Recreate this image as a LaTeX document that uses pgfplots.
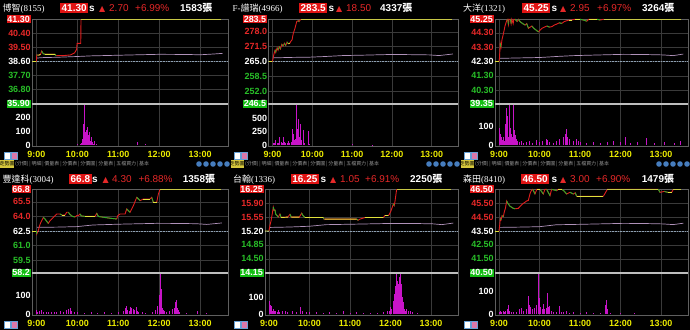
\documentclass[border=0pt]{standalone}
\usepackage{pgfplots}
\pgfplotsset{compat=1.18}
\usepackage{fontspec}
\setmainfont{Liberation Sans}
\newfontfamily\cjk{Noto Sans CJK TC}
\newfontfamily\serif{Liberation Serif}
\newfontfamily\sym{DejaVu Sans}

\definecolor{gridc}{RGB}{58,58,58}
\definecolor{framec}{RGB}{95,95,95}
\definecolor{sepc}{RGB}{190,190,190}
\definecolor{upred}{RGB}{225,30,30}
\definecolor{dngreen}{RGB}{40,175,40}
\definecolor{flaty}{RGB}{225,225,60}
\definecolor{limy}{RGB}{200,200,70}
\definecolor{avgc}{RGB}{175,145,185}
\definecolor{volc}{RGB}{200,20,200}
\definecolor{refc}{RGB}{140,160,180}
\definecolor{lblred}{RGB}{230,40,40}
\definecolor{lblgreen}{RGB}{40,190,40}
\definecolor{boxred}{RGB}{225,20,20}
\definecolor{boxgreen}{RGB}{20,190,20}
\definecolor{timey}{RGB}{235,235,0}
\definecolor{tabc}{RGB}{150,150,150}
\definecolor{btnc}{RGB}{70,125,190}
\definecolor{iconb}{RGB}{100,160,215}
\definecolor{iconp}{RGB}{220,120,170}
\definecolor{tabyel}{RGB}{215,200,60}

\newcommand\tf{\bfseries\fontsize{9}{9}\selectfont}
\newcommand\rb[1]{{\setlength{\fboxsep}{0.8bp}\colorbox{boxred}{\textcolor{white}{#1}}}}
\newcommand\gb[1]{{\setlength{\fboxsep}{0.8bp}\colorbox{boxgreen}{\textcolor{white}{#1}}}}
\newcommand\hb[1]{{\setlength{\fboxsep}{1.5bp}\colorbox{boxred}{\textcolor{white}{#1}}}}
\newcommand\rl[1]{\textcolor{lblred}{#1}}
\newcommand\gl[1]{\textcolor{lblgreen}{#1}}
\newcommand\wl[1]{\textcolor{white}{#1}}

\pgfplotsset{
  price/.style={scale only axis, anchor=north west, clip=false,
    axis line style={framec, line width=0.6bp},
    xtick={0,60,120,180,240}, xticklabels={},
    xmajorgrids, ymajorgrids, grid style={gridc, line width=0.6bp},
    major tick length=0pt, unbounded coords=jump,
    yticklabel style={font=\tf, inner sep=0.5bp, xshift=-0.6bp}},
  vol/.style={scale only axis, anchor=north west, height=42.8bp,
    axis line style={framec, line width=0.6bp},
    xtick={0,60,120,180,240}, xticklabels={9:00,10:00,11:00,12:00,13:00},
    xticklabel style={font=\tf, text=timey, anchor=north, inner sep=0pt, yshift=-5bp},
    xmajorgrids, grid style={gridc, line width=0.6bp},
    major tick length=0pt,
    yticklabel style={font=\tf, text=white, inner sep=0.5bp, xshift=-0.6bp},
    after end axis/.code={\draw[sepc, line width=1.6bp] (rel axis cs:0,1) -- (rel axis cs:1,1);}},
  refl/.style={refc, densely dotted, line width=0.6bp},
  avgl/.style={avgc, line width=0.7bp},
  upl/.style={upred, line width=0.9bp},
  dnl/.style={dngreen, line width=0.9bp},
  flatl/.style={flaty, line width=0.9bp},
  liml/.style={limy, line width=1bp},
  volb/.style={volc, ycomb, line width=0.8bp},
}

\newcommand\hdrfont{\fontsize{10}{10}\selectfont}

\begin{document}
\begin{tikzpicture}
\fill[black] (0,0) rectangle (690bp,-330bp);
\useasboundingbox (0,0) rectangle (690bp,-330bp);

% ================= Panel 1 =================
\begin{axis}[price, at={(32bp,-19.3bp)}, width=196bp, height=84.4bp,
  xmin=-6.5, xmax=281, ymin=35.90, ymax=41.30,
  ytick={35.90,36.80,37.70,38.60,39.50,40.40,41.30},
  yticklabels={\gb{35.90},\gl{36.80},\gl{37.70},\wl{38.60},\rl{39.50},\rl{40.40},\rb{41.30}}]
\addplot[refl] coordinates {(-6.5,38.60)(281,38.60)};
\addplot[avgl] coordinates {(0,38.82)(10,38.85)(30,38.87)(60,38.92)(80,38.96)(100,38.98)(150,39.03)(180,39.06)(220,39.05)(240,39.03)(260,39.08)(273,39.12)};
\addplot[upl] coordinates {(0,38.60)(0.5,39.02)(3,39.00)(6,39.05)(7.7,39.27)(10,39.10)(12.6,39.06)(27.3,39.06)(28.8,38.97)(40,38.98)(50,39.02)(56,39.15)(59,39.38)(59.6,39.76)(65,39.76)(65.4,41.30)};
\addplot[dnl] coordinates {(0.5,39.02)(3,39.00)(3,nan)(7.7,39.27)(10,39.10)(12.6,39.06)(12.6,nan)(27.3,39.06)(28.8,38.97)};
\addplot[flatl] coordinates {(-6,38.60)(0,38.60)(0,nan)(3,39.00)(6,39.05)(6,nan)(12.6,39.06)(27.3,39.06)};
\addplot[liml] coordinates {(65.4,41.30)(270,41.30)};
\end{axis}
\begin{axis}[vol, at={(32bp,-103.7bp)}, width=196bp,
  xmin=-6.5, xmax=281, ymin=-10.7, ymax=295, ytick={0,100,200}, yticklabels={0,100,200}]
\addplot[volb] coordinates {(60,8)(64,10)(66,12)(67,20)(68,40)(69,150)(70,290)(71,200)(72,90)(73,60)(74,110)(75,130)(76,70)(77,50)(78,90)(79,30)(80,40)(81,60)(82,20)(83,10)(85,30)(88,10)(148,25)(160,5)};
\end{axis}

% ================= Panel 2 =================
\begin{axis}[price, at={(268.3bp,-19.3bp)}, width=189.7bp, height=84.4bp,
  xmin=-6.3, xmax=279.6, ymin=246.5, ymax=283.5,
  ytick={246.5,252,258.5,265,271.5,278,283.5},
  yticklabels={\gb{246.5},\gl{252.0},\gl{258.5},\wl{265.0},\rl{271.5},\rl{278.0},\rb{283.5}}]
\addplot[refl] coordinates {(-6.3,265)(279.6,265)};
\addplot[avgl] coordinates {(1,266.6)(30,266.8)(56,266.9)(80,267.2)(106,267.6)(140,267.8)(181,268.1)(210,268.0)(236,267.9)(251,267.6)(272,268.3)};
\addplot[upl] coordinates {(0,265.0)(1,266.5)(2.5,268.6)(4,270.0)(5,269.0)(7,271.0)(8.5,270.0)(10,271.5)(12,270.5)(14,272.5)(16,271.8)(18,273.0)(20,272.0)(22,273.5)(24,272.8)(26,273.0)(28,274.0)(29.5,274.5)(31.4,277.4)(33.9,279.5)(36.5,282.5)(38.9,282.9)(40,282.5)(42.5,283.5)};
\addplot[dnl] coordinates {(4,270.0)(5,269.0)(5,nan)(7,271.0)(8.5,270.0)(8.5,nan)(10,271.5)(12,270.5)(12,nan)(14,272.5)(16,271.8)(16,nan)(18,273.0)(20,272.0)(20,nan)(22,273.5)(24,272.8)(24,nan)(38.9,282.9)(40,282.5)};
\addplot[flatl] coordinates {(-6,265)(0,265)(0,nan)(24,272.8)(26,273.0)};
\addplot[liml] coordinates {(42.5,283.5)(270,283.5)};
\end{axis}
\begin{axis}[vol, at={(268.3bp,-103.7bp)}, width=189.7bp,
  xmin=-6.3, xmax=279.6, ymin=-27.7, ymax=763, ytick={0,250,500}, yticklabels={0,250,500}]
\addplot[volb] coordinates {(1,30)(3,40)(5,90)(7,40)(9,30)(11,140)(13,50)(15,40)(17,150)(18,60)(20,40)(22,30)(24,80)(26,40)(28,60)(30,300)(31,200)(33,100)(35,120)(36,750)(37,300)(38,180)(39,480)(40,150)(42,380)(43,100)(44,50)(46,280)(48,40)(54,250)(56,20)(120,10)(150,5)};
\end{axis}

% ================= Panel 3 =================
\begin{axis}[price, at={(495bp,-19.3bp)}, width=193bp, height=84.4bp,
  xmin=-5.9, xmax=280, ymin=39.35, ymax=45.25,
  ytick={39.35,40.30,41.30,42.30,43.30,44.30,45.25},
  yticklabels={\gb{39.35},\gl{40.30},\gl{41.30},\wl{42.30},\rl{43.30},\rl{44.30},\rb{45.25}}]
\addplot[refl] coordinates {(-5.9,42.30)(280,42.30)};
\addplot[avgl] coordinates {(1,42.52)(30,42.55)(61,42.58)(85,42.65)(110,42.71)(150,42.76)(184,42.80)(215,42.79)(243,42.76)(258,42.71)(273,42.82)};
\addplot[upl] coordinates {(0,42.30)(0.8,42.60)(1.8,43.57)(3,43.30)(4.5,43.85)(6.7,44.27)(9,44.80)(11.7,45.20)(13,45.25)(14,44.90)(15,45.25)(17,45.25)(18,44.95)(19,45.25)(21,44.95)(22,45.25)(24,45.25)(27,45.10)(29,45.25)(31.4,45.08)(35,44.95)(38.8,44.85)(41,44.95)(43.7,44.62)(46,44.70)(48.7,44.78)(51,44.65)(53.6,44.55)(56,44.45)(58.5,44.38)(61,44.50)(63.6,44.62)(67,44.70)(71,44.78)(75,44.70)(78.4,44.74)(82,44.85)(85.8,44.92)(89,45.00)(93.2,44.97)(97,45.10)(100.6,45.15)(104,45.20)(108,45.20)(112,45.25)(120,45.25)(125,45.20)(130,45.12)(133,45.25)(145,45.25)(150,45.20)(155,45.25)};
\addplot[dnl] coordinates {(1.8,43.57)(3,43.30)(3,nan)(13,45.25)(14,44.90)(14,nan)(17,45.25)(18,44.95)(18,nan)(24,45.25)(27,45.10)(27,nan)(29,45.25)(31.4,45.08)(35,44.95)(38.8,44.85)(38.8,nan)(41,44.95)(43.7,44.62)(43.7,nan)(48.7,44.78)(51,44.65)(53.6,44.55)(56,44.45)(58.5,44.38)(58.5,nan)(71,44.78)(75,44.70)(75,nan)(89,45.00)(93.2,44.97)(93.2,nan)(120,45.25)(125,45.20)(130,45.12)(130,nan)(145,45.25)(150,45.20)};
\addplot[flatl] coordinates {(-6,42.30)(0,42.30)(0,nan)(104,45.20)(108,45.20)(108,nan)(112,45.25)(120,45.25)(120,nan)(133,45.25)(145,45.25)};
\addplot[liml] coordinates {(155,45.25)(270,45.25)};
\end{axis}
\begin{axis}[vol, at={(495bp,-103.7bp)}, width=193bp,
  xmin=-5.9, xmax=280, ymin=-7.9, ymax=217, ytick={0,100}, yticklabels={0,100}]
\addplot[volb] coordinates {(0,90)(1,30)(2,60)(3,20)(4,40)(5,25)(6,30)(7,40)(8,20)(9,30)(10,110)(11,193)(12,60)(13,150)(14,40)(15,70)(16,210)(17,90)(18,50)(19,60)(20,40)(21,210)(22,100)(23,80)(24,40)(25,50)(26,30)(28,20)(30,15)(33,20)(36,10)(40,15)(45,20)(50,10)(55,25)(60,15)(65,20)(70,30)(72,25)(75,15)(80,10)(85,20)(90,30)(95,40)(98,60)(100,85)(102,40)(105,30)(110,20)(115,30)(118,20)(120,15)(130,10)(140,15)(150,10)(160,15)(170,20)(180,15)(187,40)(195,10)(205,15)(218,35)(230,10)(245,15)(260,10)(268,20)};
\end{axis}

% ================= Panel 4 =================
\begin{axis}[price, at={(32bp,-189.3bp)}, width=196bp, height=83.4bp,
  xmin=-6.5, xmax=281, ymin=58.2, ymax=66.8,
  ytick={58.2,59.5,61.0,62.5,64.0,65.5,66.8},
  yticklabels={\gb{58.2},\gl{59.5},\gl{61.0},\wl{62.5},\rl{64.0},\rl{65.5},\rb{66.8}}]
\addplot[refl] coordinates {(-6.5,62.5)(281,62.5)};
\addplot[avgl] coordinates {(1,62.88)(30,62.90)(59,62.95)(83,63.12)(120,63.20)(176,63.29)(210,63.28)(235,63.25)(250,63.18)(272,63.33)};
\addplot[upl] coordinates {(0,62.50)(0.5,62.20)(3,62.60)(5.3,63.20)(8,63.60)(10.2,63.91)(12.6,63.74)(15,63.50)(17.5,63.29)(20,63.57)(24.8,63.91)(29.7,64.25)(34.6,64.25)(37.1,64.15)(42,64.15)(44.4,64.43)(46.8,64.43)(49.3,64.20)(53,64.00)(56.6,63.95)(59.1,64.08)(61.5,64.08)(64,64.25)(66,64.05)(71.3,64.01)(86,64.01)(88.4,64.32)(90.9,64.00)(100,63.90)(110,63.80)(117.8,63.74)(119.3,64.08)(122.6,64.25)(130,64.25)(132.4,64.77)(137.3,64.43)(142.2,65.11)(147.1,65.97)(152,65.63)(156.9,65.80)(166.6,65.80)(169.1,65.97)(171.5,65.46)(176.4,65.46)(178.9,66.32)(181.3,66.80)};
\addplot[dnl] coordinates {(0,62.50)(0.5,62.20)(0.5,nan)(10.2,63.91)(12.6,63.74)(15,63.50)(17.5,63.29)(17.5,nan)(34.6,64.25)(37.1,64.15)(37.1,nan)(46.8,64.43)(49.3,64.20)(53,64.00)(56.6,63.95)(56.6,nan)(64,64.25)(66,64.05)(71.3,64.01)(71.3,nan)(88.4,64.32)(90.9,64.00)(100,63.90)(110,63.80)(117.8,63.74)(117.8,nan)(132.4,64.77)(137.3,64.43)(137.3,nan)(147.1,65.97)(152,65.63)(152,nan)(169.1,65.97)(171.5,65.46)};
\addplot[flatl] coordinates {(-6,62.5)(0,62.5)(0,nan)(37.1,64.15)(42,64.15)(42,nan)(71.3,64.01)(86,64.01)(86,nan)(156.9,65.80)(166.6,65.80)(166.6,nan)(171.5,65.46)(176.4,65.46)};
\addplot[liml] coordinates {(181.3,66.80)(270,66.80)};
\end{axis}
\begin{axis}[vol, at={(32bp,-272.7bp)}, width=196bp,
  xmin=-6.5, xmax=281, ymin=-7.9, ymax=217, ytick={0,100}, yticklabels={0,100}]
\addplot[volb] coordinates {(0,20)(2,10)(5,15)(8,20)(10,10)(14,8)(18,10)(22,12)(26,8)(30,10)(35,15)(40,10)(44,20)(47,25)(50,30)(52,15)(55,10)(60,8)(70,5)(80,8)(90,5)(100,8)(110,5)(120,10)(128,15)(130,30)(132,40)(134,20)(136,15)(138,35)(140,30)(142,25)(144,20)(146,35)(148,15)(150,10)(155,8)(160,5)(170,10)(175,20)(178,40)(180,100)(181,60)(182,214)(183,130)(184,50)(185,30)(186,20)(188,15)(190,10)(195,15)(200,25)(202,30)(204,65)(205,74)(206,40)(207,30)(208,20)(210,10)(220,5)(236,15)(250,5)};
\end{axis}

% ================= Panel 5 =================
\begin{axis}[price, at={(265bp,-189.3bp)}, width=193bp, height=83.4bp,
  xmin=-5.9, xmax=280, ymin=14.15, ymax=16.25,
  ytick={14.15,14.50,14.85,15.20,15.55,15.90,16.25},
  yticklabels={\gb{14.15},\gl{14.50},\gl{14.85},\wl{15.20},\rl{15.55},\rl{15.90},\rb{16.25}}]
\addplot[refl] coordinates {(-5.9,15.20)(280,15.20)};
\addplot[avgl] coordinates {(1,15.29)(30,15.30)(60,15.32)(85,15.36)(120,15.37)(179,15.39)(215,15.39)(243,15.38)(256,15.36)(273,15.40)};
\addplot[upl] coordinates {(0,15.20)(1.5,15.35)(3,15.45)(5,15.65)(6.4,15.80)(7.5,15.72)(8.9,15.73)(10,15.62)(11.4,15.60)(13.8,15.55)(16.3,15.63)(18,15.54)(26.2,15.55)(28,15.55)(31.1,15.62)(33,15.55)(36,15.55)(45,15.55)(48.4,15.65)(50,15.60)(53.3,15.54)(80.5,15.54)(82,15.49)(83,15.50)(129.9,15.50)(132,15.47)(134.8,15.50)(142.2,15.54)(169.4,15.54)(171.8,15.59)(176.8,15.59)(178.3,15.62)(181,15.72)(184.2,15.88)(185.5,15.84)(186.7,15.95)(189.1,16.25)};
\addplot[dnl] coordinates {(6.4,15.80)(7.5,15.72)(7.5,nan)(8.9,15.73)(10,15.62)(11.4,15.60)(13.8,15.55)(13.8,nan)(16.3,15.63)(18,15.54)(18,nan)(31.1,15.62)(33,15.55)(33,nan)(48.4,15.65)(50,15.60)(53.3,15.54)(53.3,nan)(80.5,15.54)(82,15.49)(82,nan)(129.9,15.50)(132,15.47)(132,nan)(184.2,15.88)(185.5,15.84)};
\addplot[flatl] coordinates {(-6,15.20)(0,15.20)(0,nan)(18,15.54)(28,15.55)(28,nan)(33,15.55)(45,15.55)(45,nan)(53.3,15.54)(80.5,15.54)(80.5,nan)(83,15.50)(129.9,15.50)(129.9,nan)(142.2,15.54)(169.4,15.54)(169.4,nan)(171.8,15.59)(176.8,15.59)};
\addplot[liml] coordinates {(189.1,16.25)(270,16.25)};
\end{axis}
\begin{axis}[vol, at={(265bp,-272.7bp)}, width=193bp,
  xmin=-5.9, xmax=280, ymin=-9, ymax=247, ytick={0,100}, yticklabels={0,100}]
\addplot[volb] coordinates {(0,75)(1,40)(2,55)(3,30)(4,45)(5,20)(6,30)(8,15)(10,20)(12,10)(14,25)(16,10)(20,15)(24,20)(28,10)(34,20)(40,10)(47,40)(50,15)(55,10)(60,10)(70,10)(80,5)(90,10)(100,5)(110,15)(120,5)(130,10)(140,5)(150,8)(160,5)(170,10)(175,15)(178,20)(180,40)(182,30)(184,60)(185,80)(186,120)(187,100)(188,170)(189,238)(190,200)(191,150)(192,180)(193,220)(194,240)(195,160)(196,180)(197,100)(198,60)(199,70)(200,30)(202,20)(204,30)(206,15)(209,20)(212,10)(220,5)};
\end{axis}

% ================= Panel 6 =================
\begin{axis}[price, at={(495bp,-189.3bp)}, width=193bp, height=83.4bp,
  xmin=-5.9, xmax=280, ymin=40.50, ymax=46.50,
  ytick={40.50,41.50,42.50,43.50,44.50,45.50,46.50},
  yticklabels={\gb{40.50},\gl{41.50},\gl{42.50},\wl{43.50},\rl{44.50},\rl{45.50},\rb{46.50}}]
\addplot[refl] coordinates {(-5.9,43.50)(280,43.50)};
\addplot[avgl] coordinates {(1,43.76)(30,43.78)(60,43.81)(85,43.95)(120,43.98)(184,44.05)(215,44.04)(243,44.01)(258,43.96)(273,44.06)};
\addplot[upl] coordinates {(0,43.50)(1,43.90)(2,44.40)(3,44.30)(4.5,44.60)(6.4,44.53)(8,44.90)(9.5,45.13)(11.4,45.66)(13,45.50)(16,45.30)(19,45.20)(21.2,45.13)(24,45.10)(28.6,45.13)(32,45.30)(35,45.45)(38,45.55)(41,45.66)(43.5,45.70)(46,46.20)(48.4,46.45)(50,46.50)(53.3,46.16)(56,46.50)(60.7,46.50)(65.7,46.16)(68,46.50)(70.6,46.50)(75.6,46.04)(78,46.50)(85.4,46.40)(88,46.50)(92.8,46.50)(96,46.40)(100.2,46.16)(105.2,46.28)(110.1,46.16)(113,46.25)(115,46.00)(154.6,46.00)(157,46.20)(160.5,46.50)(236,46.50)(238.5,46.28)(245,46.35)(250,46.28)(255.8,46.28)(258.3,46.50)};
\addplot[dnl] coordinates {(2,44.40)(3,44.30)(3,nan)(4.5,44.60)(6.4,44.53)(6.4,nan)(11.4,45.66)(13,45.50)(16,45.30)(19,45.20)(21.2,45.13)(24,45.10)(24,nan)(50,46.50)(53.3,46.16)(53.3,nan)(60.7,46.50)(65.7,46.16)(65.7,nan)(70.6,46.50)(75.6,46.04)(75.6,nan)(78,46.50)(85.4,46.40)(85.4,nan)(92.8,46.50)(96,46.40)(100.2,46.16)(100.2,nan)(105.2,46.28)(110.1,46.16)(110.1,nan)(113,46.25)(115,46.00)(115,nan)(236,46.50)(238.5,46.28)(238.5,nan)(245,46.35)(250,46.28)};
\addplot[flatl] coordinates {(-6,43.50)(0,43.50)(0,nan)(56,46.50)(60.7,46.50)(60.7,nan)(88,46.50)(92.8,46.50)(92.8,nan)(115,46.00)(154.6,46.00)(154.6,nan)(250,46.28)(255.8,46.28)};
\addplot[liml] coordinates {(160.5,46.50)(236,46.50)(236,nan)(258.3,46.50)(270,46.50)};
\end{axis}
\begin{axis}[vol, at={(495bp,-272.7bp)}, width=193bp,
  xmin=-5.9, xmax=280, ymin=-6.5, ymax=180, ytick={0,100}, yticklabels={0,100}]
\addplot[volb] coordinates {(0,10)(2,15)(4,8)(6,12)(8,10)(10,15)(12,20)(13.8,40)(15,15)(18,10)(22,8)(26,10)(30,20)(33,25)(36,15)(40,20)(43.5,80)(45,40)(47,30)(50,20)(53,25)(56,40)(58,178)(59,100)(60,70)(62,30)(64,20)(65.6,45)(67,20)(70,25)(71.6,90)(73,30)(74.6,35)(77,15)(80,10)(85,8)(90,35)(92,10)(95,8)(100,15)(105,5)(110,8)(120,5)(130,8)(140,5)(150,5)(158,40)(159.5,60)(161,20)(165,5)(180,5)(200,3)};
\end{axis}

% ================= Headers =================
\begin{scope}[every node/.style={anchor=base west, inner sep=0pt}]
% row 1
\node[text=white, font=\fontsize{9}{9}\selectfont] at (2.5bp,-11.6bp) {\cjk 博智\serif(8155)};
\node[font=\bfseries\hdrfont] at (60bp,-11.6bp) {\hb{41.30}};
\node[text=white, font=\bfseries\hdrfont] at (89bp,-11.6bp) {s};
\node[text=lblred, font=\fontsize{8}{8}\selectfont] at (99bp,-11.6bp) {\sym ▲};
\node[text=lblred, font=\hdrfont] at (109bp,-11.6bp) {2.70};
\node[text=lblred, font=\hdrfont] at (135bp,-11.6bp) {+6.99\%};
\node[text=white, font=\bfseries\hdrfont] at (180bp,-11.6bp) {1583\cjk 張};

\node[text=white, font=\fontsize{9}{9}\selectfont] at (232.5bp,-11.6bp) {\serif F-\cjk 譜瑞\serif(4966)};
\node[font=\bfseries\hdrfont] at (299bp,-11.6bp) {\hb{283.5}};
\node[text=white, font=\bfseries\hdrfont] at (328.5bp,-11.6bp) {s};
\node[text=lblred, font=\fontsize{8}{8}\selectfont] at (336bp,-11.6bp) {\sym ▲};
\node[text=lblred, font=\hdrfont] at (346bp,-11.6bp) {18.50};
\node[text=white, font=\bfseries\hdrfont] at (380bp,-11.6bp) {4337\cjk 張};

\node[text=white, font=\fontsize{9}{9}\selectfont] at (463bp,-11.6bp) {\cjk 大洋\serif(1321)};
\node[font=\bfseries\hdrfont] at (522bp,-11.6bp) {\hb{45.25}};
\node[text=white, font=\bfseries\hdrfont] at (551.5bp,-11.6bp) {s};
\node[text=lblred, font=\fontsize{8}{8}\selectfont] at (560bp,-11.6bp) {\sym ▲};
\node[text=lblred, font=\hdrfont] at (570bp,-11.6bp) {2.95};
\node[text=lblred, font=\hdrfont] at (597bp,-11.6bp) {+6.97\%};
\node[text=white, font=\bfseries\hdrfont] at (642bp,-11.6bp) {3264\cjk 張};

% row 2
\node[text=white, font=\fontsize{9}{9}\selectfont] at (2.5bp,-182.6bp) {\cjk 豐達科\serif(3004)};
\node[font=\bfseries\hdrfont] at (69bp,-182.6bp) {\hb{66.8}};
\node[text=white, font=\bfseries\hdrfont] at (92bp,-182.6bp) {s};
\node[text=lblred, font=\fontsize{8}{8}\selectfont] at (102.5bp,-182.6bp) {\sym ▲};
\node[text=lblred, font=\hdrfont] at (112bp,-182.6bp) {4.30};
\node[text=lblred, font=\hdrfont] at (138.3bp,-182.6bp) {+6.88\%};
\node[text=white, font=\bfseries\hdrfont] at (182.7bp,-182.6bp) {1358\cjk 張};

\node[text=white, font=\fontsize{9}{9}\selectfont] at (233bp,-182.6bp) {\cjk 台翰\serif(1336)};
\node[font=\bfseries\hdrfont] at (290.7bp,-182.6bp) {\hb{16.25}};
\node[text=white, font=\bfseries\hdrfont] at (320.5bp,-182.6bp) {s};
\node[text=lblred, font=\fontsize{8}{8}\selectfont] at (330bp,-182.6bp) {\sym ▲};
\node[text=lblred, font=\hdrfont] at (340bp,-182.6bp) {1.05};
\node[text=lblred, font=\hdrfont] at (365bp,-182.6bp) {+6.91\%};
\node[text=white, font=\bfseries\hdrfont] at (410bp,-182.6bp) {2250\cjk 張};

\node[text=white, font=\fontsize{9}{9}\selectfont] at (463bp,-182.6bp) {\cjk 森田\serif(8410)};
\node[font=\bfseries\hdrfont] at (521bp,-182.6bp) {\hb{46.50}};
\node[text=white, font=\bfseries\hdrfont] at (551.5bp,-182.6bp) {s};
\node[text=lblred, font=\fontsize{8}{8}\selectfont] at (560bp,-182.6bp) {\sym ▲};
\node[text=lblred, font=\hdrfont] at (570bp,-182.6bp) {3.00};
\node[text=lblred, font=\hdrfont] at (596bp,-182.6bp) {+6.90\%};
\node[text=white, font=\bfseries\hdrfont] at (641.7bp,-182.6bp) {1479\cjk 張};
\end{scope}

% ================= icons, tab bars =================
\foreach \ox in {0,230,460} {
  \foreach \oy in {0,169} {
    \fill[iconb] ({\ox*1bp+3.5bp},{-\oy*1bp-151.5bp}) rectangle ({\ox*1bp+18bp},{-\oy*1bp-160bp});
    \fill[white] ({\ox*1bp+5bp},{-\oy*1bp-153bp}) rectangle ({\ox*1bp+10bp},{-\oy*1bp-158.5bp});
    \fill[iconp] ({\ox*1bp+11.5bp},{-\oy*1bp-153bp}) rectangle ({\ox*1bp+16.5bp},{-\oy*1bp-158.5bp});
  }
  \fill[tabyel] ({\ox*1bp+0.5bp},-159.5bp) rectangle ({\ox*1bp+14bp},-168bp);
  \node[anchor=center, inner sep=0pt, font=\fontsize{5}{5}\selectfont\cjk, text=black] at ({\ox*1bp+7.2bp},-163.8bp) {走勢圖};
  \node[anchor=west, inner sep=0pt, font=\fontsize{5}{5}\selectfont\cjk, text=tabc] at ({\ox*1bp+15bp},-163.8bp) {(分價)\,|\,明細\,|\,價量表\,|\,分價表\,|\,分價圖\,|\,分量表\,|\,五檔買力\,|\,基本};
  \foreach \k in {0,1,2,3,4} {
    \fill[btnc] ({\ox*1bp+199bp+\k*7bp},-164bp) circle (2.8bp);
  }
}
\end{tikzpicture}
\end{document}
